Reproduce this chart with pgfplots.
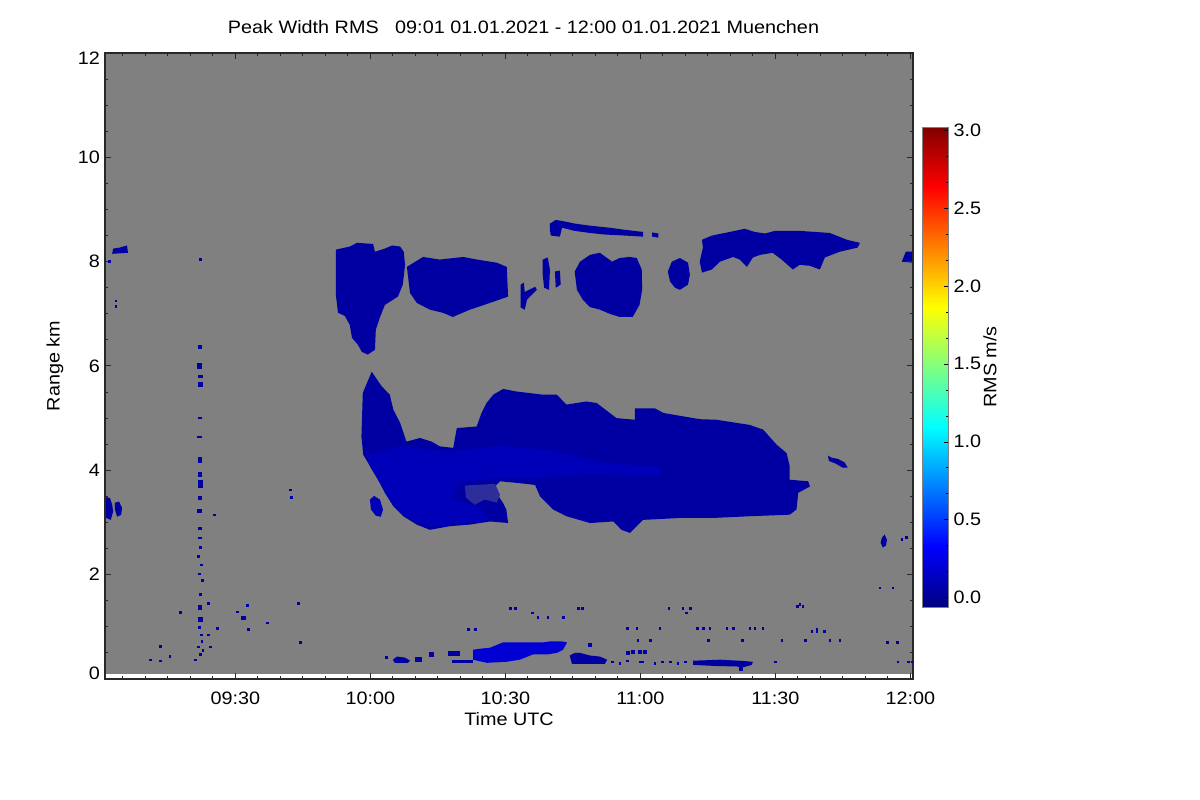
\documentclass[border=0pt]{standalone}
\usepackage{fontspec}
\setmainfont{Liberation Sans}[FakeStretch=1.1]
\usepackage{pgfplots}
\pgfplotsset{compat=1.18}
\definecolor{bg}{RGB}{128,128,128}
\definecolor{cdark}{RGB}{0,0,162}
\definecolor{cmid}{RGB}{0,0,185}
\definecolor{clight}{RGB}{0,0,212}
\definecolor{cmix}{RGB}{45,45,155}
\definecolor{frm}{RGB}{40,40,40}
\begin{document}
\begin{tikzpicture}[font=\fontsize{18bp}{22bp}\selectfont]
\useasboundingbox (0,0) rectangle (1200bp,800bp);
\begin{axis}[
  at={(105bp,121bp)}, anchor=south west,
  width=808bp, height=626bp, scale only axis,
  xmin=541, xmax=720.6, ymin=0, ymax=12,
  axis on top,
  axis line style={frm, line width=1.2bp},
  tick style={frm, line width=1bp},
  tick align=inside, tick pos=both,
  major tick length=6bp, minor tick length=3bp,
  xtick={570,600,630,660,690,720},
  xticklabels={09:30,10:00,10:30,11:00,11:30,12:00},
  minor xtick={545,550,...,715},
  ytick={0,2,4,6,8,10,12},
  yticklabels={,2,4,6,8,10,},
  minor y tick num=3,
  /pgf/number format/assume math mode=true,
  xticklabel style={anchor=center, yshift=-19.5bp, inner sep=0pt},
  yticklabel style={anchor=east, xshift=-5bp, inner sep=0pt},
  title={Peak Width RMS\ \ \ 09:01 01.01.2021 - 12:00 01.01.2021 Muenchen},
  title style={at={(axis description cs:0.518,1.032)}, anchor=center, inner sep=0pt},
  xlabel={Time UTC},
  xlabel style={at={(axis description cs:0.5,-0.0639)}, anchor=center, inner sep=0pt},
  ylabel={Range km},
  ylabel style={at={(axis description cs:-0.0619,0.5)}, anchor=center, inner sep=0pt},
  clip=false,
]
% gray background (no-signal area)
\addplot[fill=bg, draw=none] coordinates {(541,0.1) (720.6,0.1) (720.6,12) (541,12)} -- cycle;

% main cloud 3-6 km
\addplot[fill=cdark, draw=none] coordinates {
(600.3,5.89) (602.5,5.61) (604.3,5.45) (605.1,5.16) (606.6,4.91) (608.0,4.55) (611.0,4.62) (613.6,4.55)
(615.4,4.46) (618.4,4.43) (619.2,4.81) (623.6,4.84) (624.7,5.10) (625.8,5.29) (627.3,5.45) (629.5,5.56)
(632.5,5.51) (638.4,5.45) (641.4,5.45) (643.6,5.26) (648.0,5.32) (650.3,5.29) (654.7,5.00) (658.8,4.97)
(658.8,5.19) (663.2,5.19) (665.1,5.10) (673.2,4.98) (676.9,4.97) (684.3,4.87) (687.3,4.78) (690.3,4.49)
(692.5,4.33) (693.2,4.08) (693.2,3.82) (697.3,3.79) (697.7,3.69) (695.1,3.57) (694.7,3.25) (693.2,3.15)
(684.3,3.12) (676.9,3.09) (669.5,3.09) (660.6,3.05) (659.2,2.93) (657.7,2.80) (655.8,2.86) (654.0,3.02)
(648.8,2.99) (643.6,3.12) (640.6,3.25) (637.7,3.50) (636.6,3.72) (632.5,3.76) (628.8,3.79) (627.3,3.66)
(629.5,3.37) (630.2,3.25) (630.6,2.99) (626.6,3.02) (622.1,2.96) (617.7,2.93) (613.2,2.86) (610.3,2.96)
(607.3,3.12) (605.1,3.31) (603.2,3.57) (601.7,3.82) (599.9,4.08) (598.4,4.30) (598.0,4.65) (598.3,5.48)
(599.2,5.67)} -- cycle;
% brighter band inside
\addplot[fill=cmid, draw=none] coordinates {
(599.0,4.28) (606.6,4.47) (617.7,4.36) (628.8,4.47) (640.0,4.38) (652.0,4.15) (665.0,4.05) (664.0,3.90)
(648.0,3.92) (637.7,3.86) (628.8,3.86) (619.9,3.78) (618.0,3.45) (624.0,3.30) (626.6,3.05) (613.2,2.92)
(610.1,3.02) (606.6,3.19) (604.3,3.44) (602.1,3.76) (600.1,4.05)} -- cycle;
% speckled inlet
\addplot[fill=cmix, draw=none] coordinates {
(621.0,3.71) (627.7,3.74) (628.8,3.53) (628.1,3.38) (625.4,3.44) (623.2,3.34) (621.2,3.48)} -- cycle;
% small pieces near main cloud
\addplot[fill=cmid, draw=none] coordinates {
(599.9,3.44) (600.8,3.51) (602.1,3.44) (602.8,3.25) (602.3,3.11) (601.2,3.13) (600.1,3.25)} -- cycle;
\addplot[fill=cdark, draw=none] coordinates {
(701.7,4.28) (702.6,4.24) (703.9,4.22) (705.4,4.15) (706.1,4.05) (705.0,4.05) (703.4,4.13) (701.9,4.18)} -- cycle;
\addplot[fill=cdark, draw=none] coordinates {
(713.7,2.71) (714.3,2.77) (714.8,2.67) (714.6,2.56) (713.9,2.52) (713.4,2.61)} -- cycle;

% upper cloud band 6-9 km
\addplot[fill=cdark, draw=none] coordinates {
(592.3,8.23) (595.4,8.29) (597.0,8.36) (600.6,8.34) (601.0,8.19) (603.2,8.25) (604.8,8.31) (606.6,8.29)
(607.4,8.19) (607.7,7.94) (607.2,7.56) (606.1,7.33) (603.2,7.17) (602.1,6.93) (601.2,6.70) (601.0,6.31)
(599.4,6.22) (598.1,6.27) (597.2,6.41) (595.9,6.54) (595.4,6.79) (594.3,6.96) (592.8,7.02) (592.3,7.37)} -- cycle;
\addplot[fill=cdark, draw=none] coordinates {
(608.1,7.90) (611.7,8.09) (615.4,8.04) (620.6,8.09) (623.7,8.04) (628.1,7.98) (630.3,7.90) (630.6,7.33)
(626.6,7.21) (622.1,7.08) (618.3,6.94) (616.1,7.02) (613.2,7.08) (610.3,7.21) (608.8,7.40)} -- cycle;
\addplot[fill=cdark, draw=none] coordinates {
(633.4,7.56) (634.1,7.60) (634.3,7.42) (636.6,7.52) (637.0,7.46) (634.8,7.27) (634.3,7.08) (633.4,7.12)} -- cycle;
\addplot[fill=cdark, draw=none] coordinates {
(638.3,8.04) (639.4,8.08) (639.9,7.85) (639.7,7.46) (638.6,7.50) (638.3,7.75)} -- cycle;
\addplot[fill=cdark, draw=none] coordinates {
(641.0,7.81) (642.1,7.83) (642.3,7.56) (641.2,7.50)} -- cycle;
\addplot[fill=cdark, draw=none] coordinates {
(645.4,7.81) (646.6,8.00) (648.8,8.13) (651.0,8.17) (652.6,8.07) (653.7,8.00) (655.4,8.07) (657.6,8.09)
(659.2,8.07) (660.3,7.85) (660.4,7.46) (659.8,7.17) (658.3,6.94) (655.4,6.94) (653.2,7.00) (651.0,7.08)
(648.8,7.13) (647.2,7.27) (645.9,7.46)} -- cycle;
\addplot[fill=cdark, draw=none] coordinates {
(639.9,8.73) (641.2,8.80) (643.2,8.77) (645.4,8.73) (648.8,8.69) (653.2,8.65) (656.6,8.61) (660.6,8.57)
(660.6,8.48) (656.6,8.50) (652.1,8.52) (648.8,8.55) (645.4,8.59) (642.6,8.65) (642.1,8.48) (640.1,8.50)
(639.9,8.61)} -- cycle;
\addplot[fill=cdark, draw=none] coordinates {
(662.6,8.56) (664.0,8.54) (664.0,8.46) (662.6,8.48)} -- cycle;
\addplot[fill=cdark, draw=none] coordinates {
(666.1,7.81) (667.0,8.00) (668.8,8.07) (670.6,7.98) (671.0,7.75) (670.6,7.56) (668.8,7.46) (667.7,7.50)
(666.6,7.62)} -- cycle;
\addplot[fill=cdark, draw=none] coordinates {
(673.7,8.42) (675.9,8.50) (679.9,8.57) (683.2,8.63) (685.4,8.57) (687.7,8.54) (689.9,8.59) (695.4,8.59)
(702.1,8.55) (705.9,8.42) (708.8,8.36) (708.3,8.27) (704.3,8.19) (701.0,8.08) (699.9,7.85) (697.7,7.92)
(695.4,7.94) (693.9,7.85) (691.4,8.04) (689.4,8.17) (686.6,8.13) (685.0,8.08) (683.7,7.90) (682.1,8.04)
(680.6,8.09) (677.7,8.00) (675.9,7.85) (673.7,7.79) (673.2,8.00) (673.9,8.27)} -- cycle;
% edge pieces
\addplot[fill=cdark, draw=none] coordinates {
(542.6,8.15) (542.8,8.25) (544.3,8.27) (545.9,8.31) (546.1,8.17)} -- cycle;
\addplot[fill=cdark, draw=none] coordinates {
(718.1,8.00) (719.0,8.19) (720.6,8.19) (720.6,7.98)} -- cycle;
\addplot[fill=cdark, draw=none] coordinates {
(541.0,3.49) (542.1,3.47) (542.6,3.34) (542.8,3.21) (542.3,3.05) (541.2,3.09) (541.0,3.25)} -- cycle;
\addplot[fill=cdark, draw=none] coordinates {
(543.2,3.38) (544.1,3.40) (544.8,3.28) (544.6,3.15) (543.7,3.11) (543.2,3.25)} -- cycle;

% low-level returns
\addplot[fill=clight, draw=none] coordinates {
(622.8,0.56) (624.3,0.58) (626.6,0.60) (629.4,0.70) (633.9,0.70) (638.3,0.70) (639.9,0.72) (642.6,0.72)
(643.7,0.70) (642.8,0.56) (641.4,0.50) (639.2,0.47) (636.1,0.47) (633.2,0.37) (630.3,0.33) (625.9,0.31)
(622.8,0.37)} -- cycle;
\addplot[fill=cdark, draw=none] coordinates {
(605.0,0.37) (605.9,0.43) (607.7,0.41) (608.8,0.35) (608.3,0.31) (605.4,0.31)} -- cycle;
\addplot[fill=cdark, draw=none] coordinates {(609.9,0.33) (611.4,0.33) (611.4,0.43) (609.9,0.43)} -- cycle;
\addplot[fill=cdark, draw=none] coordinates {(613.0,0.42) (614.2,0.42) (614.2,0.52) (613.0,0.52)} -- cycle;
\addplot[fill=cdark, draw=none] coordinates {(617.2,0.45) (619.9,0.45) (619.9,0.54) (617.2,0.54)} -- cycle;
\addplot[fill=cdark, draw=none] coordinates {(618.1,0.31) (622.8,0.31) (622.8,0.37) (618.1,0.37)} -- cycle;
\addplot[fill=cdark, draw=none] coordinates {
(644.3,0.45) (645.4,0.50) (646.6,0.50) (648.8,0.45) (651.0,0.43) (652.6,0.37) (652.1,0.29) (647.7,0.29)
(644.8,0.29)} -- cycle;
\addplot[fill=cdark, draw=none] coordinates {
(671.7,0.35) (677.7,0.37) (682.1,0.35) (685.0,0.33) (684.8,0.27) (682.6,0.22) (681.4,0.24) (676.6,0.25)
(671.7,0.27)} -- cycle;

% vertical streak of returns near 09:22
\addplot[cdark, line width=4.5bp, unbounded coords=jump] coordinates {
(562.1,6.33) (562.1,6.41) (562.1,nan)
(562.0,5.95) (562.0,6.06) (562.0,nan)
(562.2,5.77) (562.2,5.82) (562.2,nan)
(562.2,5.60) (562.2,5.70) (562.2,nan)
(562.1,4.98) (562.1,5.02) (562.1,nan)
(562.0,4.62) (562.0,4.66) (562.0,nan)
(562.1,4.15) (562.1,4.26) (562.1,nan)
(562.1,3.88) (562.1,3.97) (562.1,nan)
(562.2,3.67) (562.2,3.82) (562.2,nan)
(562.1,3.44) (562.1,3.51) (562.1,nan)
(562.0,3.19) (562.0,3.26) (562.0,nan)
(562.1,2.86) (562.1,2.92) (562.1,nan)
(562.1,2.69) (562.1,2.73) (562.1,nan)
(562.1,1.33) (562.1,1.42) (562.1,nan)
(562.2,1.10) (562.2,1.19)};

% isolated returns
\addplot[only marks, mark=square*, mark size=0.9bp, color=cdark] coordinates {
(553.2,0.63) (551.0,0.37) (553.2,0.35) (555.4,0.43) (557.7,1.28) (561.0,0.37) (563.9,1.46) (563.9,0.85)
(565.9,0.98) (564.3,0.62) (570.3,1.29) (572.6,1.42) (572.8,0.95) (577.0,1.08) (583.9,1.46) (584.3,0.70)
(562.1,8.04) (582.1,3.63) (582.3,3.49) (565.2,3.15) (562.0,1.00) (562.3,0.85) (562.5,0.72) (561.7,0.62)
(562.7,0.55) (562.2,0.48) (562.1,2.52) (561.8,2.35) (562.3,2.19) (561.9,2.02) (562.6,1.90) (562.1,1.62)
(542.0,8.01) (543.4,7.15) (543.4,7.25)
(651.5,0.34) (653.7,0.33) (655.4,0.31) (657.0,0.35) (659.9,0.33) (663.2,0.31) (664.8,0.33) (666.6,0.33)
(668.3,0.31) (669.9,0.33) (657.0,0.98) (659.2,0.98) (664.3,0.98) (672.6,0.98) (673.9,0.98) (675.4,0.98)
(679.2,0.98) (680.6,0.98) (684.3,0.98) (685.4,0.98) (687.2,0.98) (659.4,0.75) (662.1,0.75) (675.0,0.75)
(682.6,0.75) (691.4,0.75) (696.6,0.75) (702.1,0.75) (704.3,0.75) (698.1,0.91) (699.2,0.91) (700.8,0.91)
(694.8,1.40) (696.1,1.40) (631.0,1.35) (632.1,1.35) (646.1,1.35) (647.0,1.35) (666.3,1.35) (669.4,1.35)
(671.0,1.35) (635.9,1.27) (670.1,1.27) (637.2,1.19) (639.4,1.19) (642.8,1.19) (621.7,0.95) (623.2,0.95)
(714.8,0.70) (717.0,0.70) (717.2,0.33) (719.5,0.33) (720.3,0.33) (713.2,1.75) (716.1,1.75) (719.0,2.72)
(718.1,2.68) (695.4,1.44) (699.2,0.95) (603.5,0.42) (660.5,0.33) (690.0,0.33)};
\addplot[only marks, mark=square*, mark size=1.6bp, color=cdark] coordinates {
(571.7,1.18) (657.2,0.50) (658.3,0.52) (659.9,0.52) (661.0,0.52) (648.7,0.66) (682.3,0.20)};

% end tick labels, set slightly inside as in the original
\node[anchor=east, inner sep=0pt, xshift=-5bp, yshift=6bp] at (axis cs:541,0) {0};
\node[anchor=east, inner sep=0pt, xshift=-5bp, yshift=-5bp] at (axis cs:541,12) {12};
\end{axis}

% colour bar
\begin{axis}[
  at={(922.7bp,193bp)}, anchor=south west,
  width=25.6bp, height=480bp, scale only axis,
  xmin=0, xmax=1, ymin=-0.06, ymax=3.02,
  colormap/jet, point meta min=-0.06, point meta max=3.02,
  axis on top,
  axis line style={gray, line width=0.8bp},
  xtick=\empty,
  ytick={0,0.5,1,1.5,2,2.5,3},
  minor y tick num=2,
  ytick pos=right, yticklabel pos=right,
  tick align=inside, major tick length=4bp, minor tick length=2.5bp,
  tick style={black, line width=0.6bp},
  yticklabel style={anchor=west, xshift=5bp, inner sep=0pt,
    /pgf/number format/.cd, fixed, fixed zerofill, precision=1, assume math mode=true},
  ylabel={RMS m/s},
  ylabel style={at={(axis description cs:2.63,0.5)}, anchor=center, inner sep=0pt},
]
\addplot[surf, shader=interp, mesh/cols=2, point meta=y] coordinates {
(0,-0.06) (1,-0.06) (0,3.02) (1,3.02)};
\end{axis}
\end{tikzpicture}
\end{document}
